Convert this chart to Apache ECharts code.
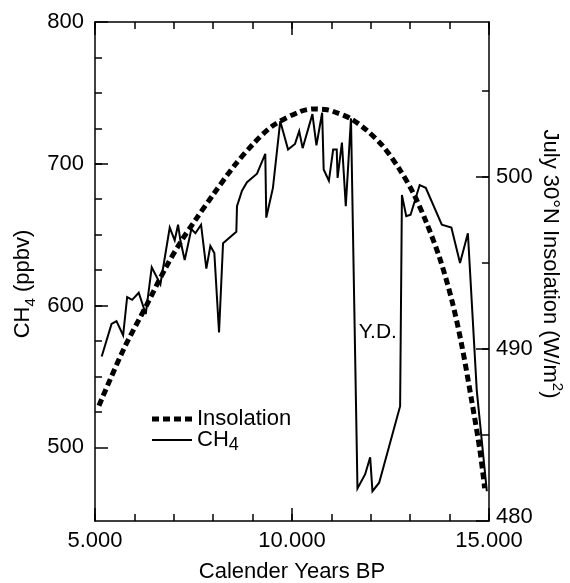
<!DOCTYPE html>
<html><head><meta charset="utf-8">
<script src="https://cdn.jsdelivr.net/npm/echarts@6/dist/echarts.min.js"></script>
<style>html,body{margin:0;padding:0;background:#fff;}#c{width:570px;height:583px;}</style>
</head><body><div id="c"></div>
<script>
// ---- data ----
const ch4Years = [5170, 5420, 5545, 5714, 5816, 5943, 6110, 6288, 6440, 6660,
  6897, 7023, 7108, 7167, 7276, 7446, 7548, 7692, 7826, 7928,
  8029, 8148, 8250, 8587, 8604, 8731, 8858, 9112, 9322, 9347,
  9516, 9702, 9900, 10076, 10183, 10270, 10518, 10620, 10765, 10804,
  10936, 11045, 11135, 11157, 11267, 11365, 11497, 11662, 11857, 11984,
  12042, 12212, 12744, 12790, 12900, 13010, 13240, 13395, 13802, 14045,
  14265, 14464, 14690, 14945];
const ch4 = [564, 587, 589, 579, 606, 604, 609, 594, 627, 615,
  655, 646, 657, 646, 632, 654, 651, 657, 626, 642,
  637, 581, 644, 652, 670, 681, 687, 693, 707, 662,
  683, 730, 710, 714, 723, 711, 735, 713, 736, 696,
  688, 710, 710, 690, 715, 670, 732, 471, 481, 493,
  469, 475, 529, 678, 663, 664, 685, 683, 657, 655,
  630, 651, 540, 469];
const insYears = [5100, 5730, 6300, 6790, 7170, 7550, 8010, 8520, 9030, 9530,
  10210, 10550, 10890, 11050, 11480, 11900, 12320, 12740, 13080, 13420,
  13760, 14060, 14310, 14560, 14770, 14890];
const insolation = [486.7, 490.0, 492.5, 494.7, 496.2, 497.5, 499.0, 500.6, 501.95, 503.0,
  503.8, 503.95, 503.9, 503.8, 503.4, 502.7, 501.75, 500.4, 499.05, 497.3,
  495.2, 492.8, 490.2, 487.0, 484.1, 481.9];
// axis ranges and tick steps
const xRange = [5000, 15000];
const xMajor = [5000, 15000, 5000];   // labelled ticks: from, to, step
const xMinor = [5000, 15000, 1000];   // short ticks
const leftRange = [448, 800];
const leftMajor = [500, 800, 100];
const leftMinor = [525, 775, 25];
const rightRange = [480, 509];
const rightMajor = [480, 500, 10];
const rightMinor = [485, 505, 5];
const ydLabel = {text: 'Y.D.', year: 12180, value: 581};

// ---- chart ----
const FONT = "'Liberation Sans', Arial, Helvetica, sans-serif";
const BLACK = '#000';
function lineS() { return {color: BLACK, width: 1.5, opacity: 1}; }
function fmtYear(v) { return String(v).replace(/\B(?=(\d{3})+(?!\d))/g, '.'); }

// plot box in pixels
const PL = 95, PR = 489, PT = 22, PB = 521, H = 583, W = 570;
const MAJ = 13, MIN = 7;   // tick lengths
function yPix(v, r) { return PB - (v - r[0]) / (r[1] - r[0]) * (PB - PT); }
function g(o) { return Object.assign({containLabel: false, outerBoundsMode: 'none'}, o); }

const grids = [
  g({left: PL, right: W - PR, top: PT, bottom: H - PB}),                   // 0 plot
  g({left: PL, right: W - PR, top: PB - MAJ, bottom: H - PB}),             // 1 bottom major ticks
  g({left: PL, right: W - PR, top: PB - MIN, bottom: H - PB}),             // 2 bottom minor ticks
  g({left: PL, right: W - PR, top: PT, height: MAJ}),                      // 3 top major ticks
  g({left: PL, right: W - PR, top: PT, height: MIN}),                      // 4 top minor ticks
  g({left: PL, width: MAJ, top: yPix(leftMajor[1], leftRange), bottom: H - yPix(leftMajor[0], leftRange)}),   // 5
  g({left: PL, width: MIN, top: yPix(leftMinor[1], leftRange), bottom: H - yPix(leftMinor[0], leftRange)}),   // 6
  g({right: W - PR, width: MAJ, top: yPix(rightMajor[1], rightRange), bottom: H - yPix(rightMajor[0], rightRange)}), // 7
  g({right: W - PR, width: MIN, top: yPix(rightMinor[1], rightRange), bottom: H - yPix(rightMinor[0], rightRange)})  // 8
];

function hidden(grid) { return {type: 'value', gridIndex: grid, min: 0, max: 1, show: false}; }
function tickAxis(grid, pos, spec, labels) {
  return {
    type: 'value', gridIndex: grid, position: pos, min: spec[0], max: spec[1], interval: spec[2],
    axisLine: {show: false, onZero: false}, axisTick: {show: false},
    splitLine: {show: true, showMinLine: true, showMaxLine: true, lineStyle: lineS()},
    axisLabel: labels || {show: false}
  };
}
const tickFont = {fontSize: 22, color: BLACK, fontFamily: FONT};

const xAxes = [
  {type: 'value', gridIndex: 0, position: 'bottom', min: xRange[0], max: xRange[1],
    axisLine: {show: true, onZero: false, lineStyle: lineS()}, axisTick: {show: false},
    axisLabel: {show: false}, splitLine: {show: false}},
  {type: 'value', gridIndex: 0, position: 'top', min: xRange[0], max: xRange[1],
    axisLine: {show: true, onZero: false, lineStyle: lineS()}, axisTick: {show: false},
    axisLabel: {show: false}, splitLine: {show: false}},
  Object.assign(tickAxis(1, 'bottom', xMajor,
    Object.assign({show: true, formatter: fmtYear, margin: 9}, tickFont)),
    {name: 'Calender Years BP', nameLocation: 'middle', nameGap: 40,
     nameTextStyle: {fontSize: 22, color: BLACK, fontFamily: FONT}}),
  tickAxis(2, 'bottom', xMinor),
  tickAxis(3, 'top', xMajor),
  tickAxis(4, 'top', xMinor),
  hidden(5), hidden(6), hidden(7), hidden(8)
];
const yAxes = [
  {type: 'value', gridIndex: 0, position: 'left', min: leftRange[0], max: leftRange[1],
    axisLine: {show: true, onZero: false, lineStyle: lineS()}, axisTick: {show: false},
    axisLabel: {show: false}, splitLine: {show: false}},
  {type: 'value', gridIndex: 0, position: 'right', min: rightRange[0], max: rightRange[1],
    axisLine: {show: true, onZero: false, lineStyle: lineS()}, axisTick: {show: false},
    axisLabel: {show: false}, splitLine: {show: false}},
  hidden(1), hidden(2), hidden(3), hidden(4),
  tickAxis(5, 'left', leftMajor, Object.assign({show: true, margin: 11}, tickFont)),
  tickAxis(6, 'left', leftMinor),
  tickAxis(7, 'right', rightMajor, Object.assign({show: true, margin: 7,
    formatter: function (v) { return v === 480 ? '{b|480}' : String(v); },
    rich: {b: {fontSize: 22, color: BLACK, fontFamily: FONT, padding: [0, 0, 8, 0]}}}, tickFont)),
  tickAxis(8, 'right', rightMinor)
];

const chart = echarts.init(document.getElementById('c'), null, {renderer: 'canvas'});
const option = {
  animation: false,
  backgroundColor: '#fff',
  textStyle: {fontFamily: FONT, color: BLACK},
  grid: grids,
  xAxis: xAxes,
  yAxis: yAxes,
  legend: [
    {data: [{name: 'Insolation', icon: 'path://M0 0H7V5H0Z M11 0H18V5H11Z M22 0H29V5H22Z M33 0H40V5H33Z'}],
      orient: 'vertical', left: 152, top: 408, padding: 0,
      itemWidth: 40, itemHeight: 14, symbolKeepAspect: true, selectedMode: false,
      itemStyle: {color: BLACK, borderWidth: 0},
      textStyle: {fontSize: 22, color: BLACK, fontFamily: FONT, lineHeight: 20}},
    {data: [{name: 'CH4', icon: 'path://M0 0H40V2H0Z'}],
      orient: 'vertical', left: 152, top: 429, padding: 0,
      itemWidth: 40, itemHeight: 14, symbolKeepAspect: true, selectedMode: false,
      itemStyle: {color: BLACK, borderWidth: 0},
      formatter: function () { return '{a|CH}{s|4}'; },
      textStyle: {fontSize: 22, color: BLACK, fontFamily: FONT,
        rich: {a: {fontSize: 22, lineHeight: 28, color: BLACK, fontFamily: FONT},
               s: {fontSize: 18, lineHeight: 16, verticalAlign: 'bottom', color: BLACK, fontFamily: FONT}}}}
  ],
  graphic: [
    {type: 'text', x: 23, y: 284, rotation: Math.PI / 2, silent: true,
      style: {text: '{a|CH}{s|4}{a| (ppbv)}', align: 'center', verticalAlign: 'middle', fill: BLACK,
        rich: {a: {fontSize: 22, lineHeight: 30, fontFamily: FONT, fill: BLACK, color: BLACK},
               s: {fontSize: 15, lineHeight: 15, verticalAlign: 'bottom', fontFamily: FONT, fill: BLACK, color: BLACK}}}},
    {type: 'text', x: 550, y: 264, rotation: -Math.PI / 2, silent: true,
      style: {text: '{a|July 30°N Insolation (W/m}{p|2}{a|)}', align: 'center', verticalAlign: 'middle', fill: BLACK,
        rich: {a: {fontSize: 22, lineHeight: 30, fontFamily: FONT, fill: BLACK, color: BLACK},
               p: {fontSize: 15, lineHeight: 15, verticalAlign: 'top', fontFamily: FONT, fill: BLACK, color: BLACK}}}}
  ],
  series: [
    {
      name: 'Insolation', type: 'line', xAxisIndex: 0, yAxisIndex: 1,
      data: insYears.map((x, i) => [x, insolation[i]]),
      showSymbol: false, symbol: 'none', smooth: 0.3,
      lineStyle: {color: BLACK, width: 5, type: [7, 4], cap: 'butt'},
      itemStyle: {color: BLACK},
      silent: true, z: 2
    },
    {
      name: 'CH4', type: 'line', xAxisIndex: 0, yAxisIndex: 0,
      data: ch4Years.map((x, i) => [x, ch4[i]]),
      showSymbol: false, symbol: 'none',
      lineStyle: {color: BLACK, width: 2, join: 'miter', miterLimit: 4},
      itemStyle: {color: BLACK},
      silent: true, z: 3,
      markPoint: {
        symbol: 'rect', symbolSize: 1, silent: true,
        itemStyle: {color: 'rgba(0,0,0,0)'},
        label: {show: true, position: 'inside', formatter: ydLabel.text, fontSize: 21,
          color: BLACK, fontFamily: FONT, textBorderWidth: 0},
        data: [{coord: [ydLabel.year, ydLabel.value]}]
      }
    }
  ]
};
chart.setOption(option);
</script></body></html>
